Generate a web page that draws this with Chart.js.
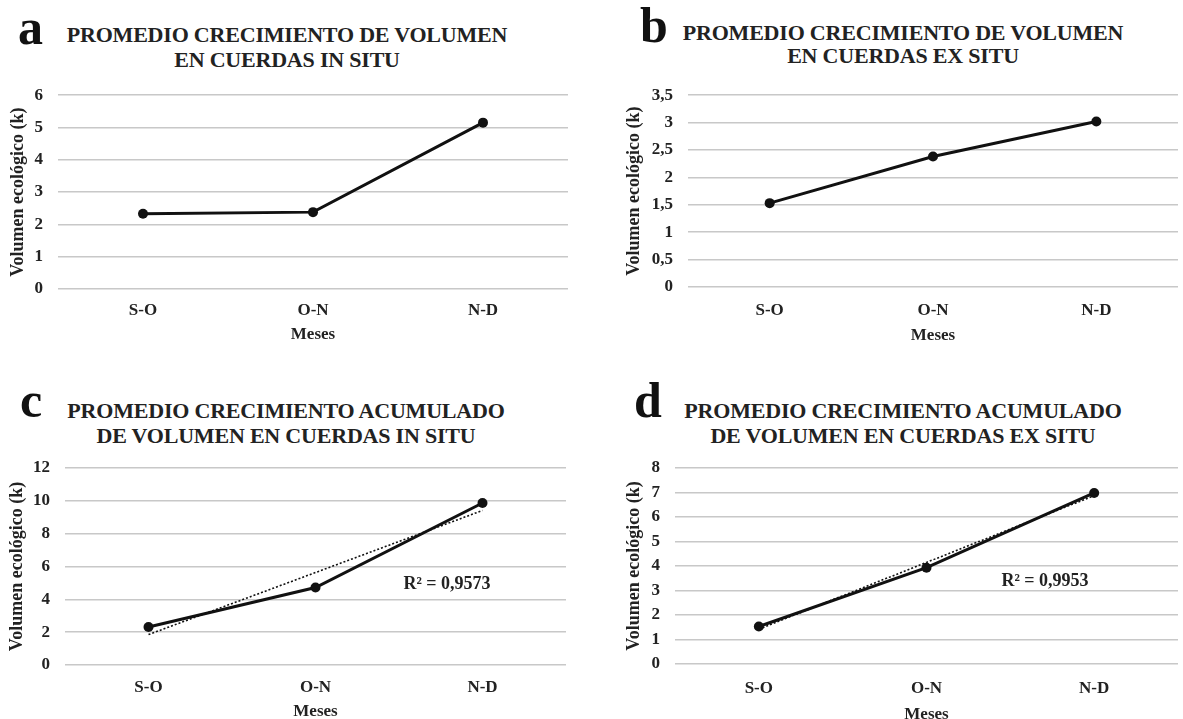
<!DOCTYPE html>
<html>
<head>
<meta charset="utf-8">
<script src="https://cdn.jsdelivr.net/npm/chart.js@4.4.1/dist/chart.umd.min.js"></script>
<style>
    body { margin: 0; background: #fff; }
    #page { position: relative; width: 1183px; height: 719px; overflow: hidden; background: #fff;
            font-family: "Liberation Serif", "Times New Roman", serif; color: #222; }
    canvas { position: absolute; }
    .letter { position: absolute; font-weight: bold; font-size: 50px; line-height: 50px; color: #111; }
    .title { position: absolute; width: 520px; text-align: center; font-weight: bold; font-size: 22px;
             line-height: 25px; letter-spacing: -0.2px; white-space: nowrap; }
    .r2 { position: absolute; font-weight: bold; font-size: 18px; white-space: nowrap; transform: translate(-50%, -50%); }
</style>
</head>
<body>
<div id="page">
    <div class="letter" style="left:18px; top:2px;">a</div>
    <div class="title" style="left:27px; top:22px;">PROMEDIO CRECIMIENTO DE VOLUMEN<br>EN CUERDAS IN SITU</div>
    <canvas id="chartA" width="590" height="279" style="left:0; top:70px;"></canvas>

    <div class="letter" style="left:640px; top:0;">b</div>
    <div class="title" style="left:643px; top:21px; line-height:23px;">PROMEDIO CRECIMIENTO DE VOLUMEN<br>EN CUERDAS EX SITU</div>
    <canvas id="chartB" width="593" height="280" style="left:590px; top:70px;"></canvas>

    <div class="letter" style="left:20px; top:375px;">c</div>
    <div class="title" style="left:26px; top:398px;">PROMEDIO CRECIMIENTO ACUMULADO<br>DE VOLUMEN EN CUERDAS IN SITU</div>
    <canvas id="chartC" width="590" height="286" style="left:0; top:440px;"></canvas>
    <div class="r2" style="left:447px; top:583px;" id="r2c"></div>

    <div class="letter" style="left:634px; top:375px;">d</div>
    <div class="title" style="left:643px; top:398px;">PROMEDIO CRECIMIENTO ACUMULADO<br>DE VOLUMEN EN CUERDAS EX SITU</div>
    <canvas id="chartD" width="593" height="289" style="left:590px; top:440px;"></canvas>
    <div class="r2" style="left:1045px; top:580px;" id="r2d"></div>
</div>
<script>
// Data
const months = ["S-O", "O-N", "N-D"];
const volInSitu = [2.33, 2.38, 5.15];
const volExSitu = [1.53, 2.38, 3.02];
const accInSitu = [2.31, 4.72, 9.87];
const accExSitu = [1.53, 3.93, 6.98];
const r2Labels = ["R² = 0,9573", "R² = 0,9953"];

const yTitle = "Volumen ecológico (k)";
const xTitle = "Meses";

Chart.defaults.font.family = '"Liberation Serif", "Times New Roman", serif';
Chart.defaults.font.weight = "bold";
Chart.defaults.color = "#222";

// least squares line through the points (x = 1, 2, 3)
function trend(values) {
    const n = values.length;
    const xs = values.map((v, i) => i + 1);
    const mx = xs.reduce((a, b) => a + b, 0) / n;
    const my = values.reduce((a, b) => a + b, 0) / n;
    let sxy = 0, sxx = 0;
    for (let i = 0; i < n; i++) {
        sxy += (xs[i] - mx) * (values[i] - my);
        sxx += (xs[i] - mx) * (xs[i] - mx);
    }
    const slope = sxy / sxx;
    return xs.map(x => my + slope * (x - mx));
}

function makeChart(id, values, opts) {
    const datasets = [{
        data: values,
        borderColor: "#111",
        backgroundColor: "#111",
        borderWidth: 3,
        pointRadius: 5,
        pointBorderWidth: 0,
        tension: 0,
    }];
    if (opts.trend) {
        datasets.push({
            data: trend(values),
            borderColor: "#111",
            borderWidth: 1.6,
            borderDash: [2, 2],
            pointRadius: 0,
            tension: 0,
        });
    }
    const ctx = document.getElementById(id).getContext("2d");
    new Chart(ctx, {
        type: "line",
        data: {labels: months, datasets: datasets},
        options: {
            responsive: false,
            animation: false,
            layout: {padding: opts.pad},
            plugins: {legend: {display: false}, tooltip: {enabled: false}},
            scales: {
                x: {
                    offset: true,
                    grid: {display: false, drawTicks: false},
                    border: {display: false},
                    ticks: {padding: opts.tickPad, font: {size: 17}},
                    title: {display: true, text: xTitle, font: {size: 17}, padding: {top: 0, bottom: 4}},
                    afterFit: scale => { scale.height = opts.xHeight; },
                },
                y: {
                    min: 0,
                    max: opts.max,
                    grid: {color: "#c8c8c8", lineWidth: 1.5, drawTicks: false},
                    border: {display: false},
                    ticks: {
                        stepSize: opts.step,
                        padding: 15,
                        font: {size: 17},
                        callback: v => String(v).replace(".", ","),
                    },
                    title: {display: true, text: yTitle, font: {size: 18}, padding: {top: 4, bottom: 0}},
                    afterFit: scale => { scale.width = opts.yWidth; },
                },
            },
        },
    });
}

makeChart("chartA", volInSitu, {pad: {left: 4, top: 22, right: 22, bottom: 0}, yWidth: 54, xHeight: 60, tickPad: 11, max: 6, step: 1});
makeChart("chartB", volExSitu, {pad: {left: 30, top: 20, right: 0, bottom: 0}, yWidth: 68, xHeight: 63, tickPad: 13, max: 3.5, step: 0.5});
makeChart("chartC", accInSitu, {pad: {left: 3, top: 28, right: 24, bottom: 0}, yWidth: 62, xHeight: 61, tickPad: 12, max: 12, step: 2, trend: true});
makeChart("chartD", accExSitu, {pad: {left: 30, top: 28, right: 0, bottom: 0}, yWidth: 55, xHeight: 65, tickPad: 14, max: 8, step: 1, trend: true});

document.getElementById("r2c").textContent = r2Labels[0];
document.getElementById("r2d").textContent = r2Labels[1];
</script>
</body>
</html>
